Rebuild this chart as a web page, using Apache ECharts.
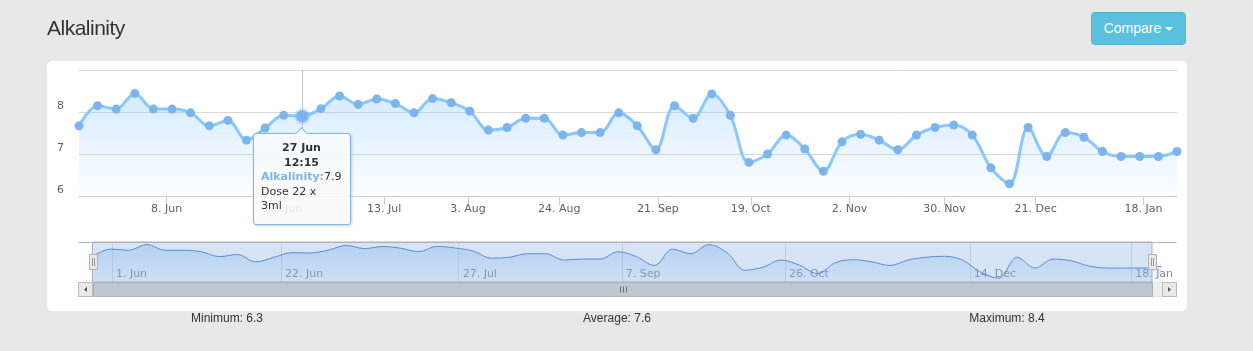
<!DOCTYPE html>
<html>
<head>
<meta charset="utf-8">
<title>Alkalinity</title>
<script src="https://cdn.jsdelivr.net/npm/echarts@6.0.0/dist/echarts.min.js"></script>
<style>
  html, body { margin: 0; padding: 0; background: #e8e8e8; }
  body { width: 1253px; height: 351px; position: relative; overflow: hidden; font-family: "Liberation Sans", Arial, sans-serif; }
  #title { position: absolute; left: 47px; top: 17px; font-size: 21px; line-height: 21px; letter-spacing: -0.5px; color: #333; }
  #compare { position: absolute; left: 1091px; top: 12px; width: 95px; height: 33px; box-sizing: border-box;
             background: #5bc0de; border: 1px solid #46b8da; border-radius: 4px; color: #fff;
             font-size: 14px; line-height: 31px; text-align: center; }
  .caret { display: inline-block; width: 0; height: 0; margin-left: 4px; vertical-align: middle;
           border-top: 4px solid #fff; border-left: 4px solid transparent; border-right: 4px solid transparent; }
  #panel { position: absolute; left: 47px; top: 61px; width: 1140px; height: 250px; background: #fff; border-radius: 5px; }
  #chart { position: absolute; left: 0; top: 0; width: 1253px; height: 351px; }
  .stat { position: absolute; top: 310px; width: 200px; margin-left: -100px; text-align: center;
          font-size: 12px; line-height: 16px; color: #333; }
</style>
</head>
<body>
<div id="panel"></div>
<div id="chart"></div>
<div id="title">Alkalinity</div>
<div id="compare">Compare<span class="caret"></span></div>
<div class="stat" id="stat-min" style="left:227px"></div>
<div class="stat" id="stat-avg" style="left:617px"></div>
<div class="stat" id="stat-max" style="left:1007px"></div>
<script>
// readings, equally spaced (ordinal axis)
var values = [
    7.67, 8.15, 8.07, 8.44, 8.07, 8.07, 7.98, 7.67, 7.80, 7.33,
    7.62, 7.92, 7.90, 8.08, 8.38, 8.18, 8.31, 8.20, 7.98, 8.32,
    8.22, 8.02, 7.57, 7.63, 7.85, 7.85, 7.45, 7.51, 7.51, 7.98,
    7.67, 7.10, 8.15, 7.85, 8.43, 7.92, 6.80, 7.00, 7.45, 7.12,
    6.59, 7.29, 7.47, 7.33, 7.10, 7.45, 7.63, 7.69, 7.45, 6.67,
    6.29, 7.63, 6.94, 7.51, 7.40, 7.06, 6.94, 6.94, 6.94, 7.06
];

// date ticks, in point-index units
var tickPos = [4.71, 10.97, 16.4, 20.9, 25.8, 31.1, 36.1, 41.4, 46.5, 51.4, 57.2];
var tickLabels = ['8. Jun', '22. Jun', '13. Jul', '3. Aug', '24. Aug', '21. Sep', '19. Oct', '2. Nov', '30. Nov', '21. Dec', '18. Jan'];

var navTickPos = [1.07, 10.4, 20.2, 29.2, 38.2, 48.4, 57.3];
var navTickLabels = ['1. Jun', '22. Jun', '27. Jul', '7. Sep', '26. Oct', '14. Dec', '18. Jan'];

// navigator selection
var navFrom = 0, navTo = 58.45;

// hovered point
var hoverIndex = 12;
var hoverDate = '27 Jun';
var hoverTime = '12:15';
var hoverDose = ['Dose 22 x', '3ml'];

var FONT = 'DejaVu Sans';
var BLUE = '#7cb5ec';

var sum = 0;
values.forEach(function (v) { sum += v; });
document.getElementById('stat-min').textContent = 'Minimum: ' + Math.min.apply(null, values).toFixed(1);
document.getElementById('stat-avg').textContent = 'Average: ' + (sum / values.length).toFixed(1);
document.getElementById('stat-max').textContent = 'Maximum: ' + Math.max.apply(null, values).toFixed(1);

var points = values.map(function (v, i) { return [i, v]; });

var labelFor = function (pos, labels) {
    return function (val) {
        for (var i = 0; i < pos.length; i++) {
            if (Math.abs(pos[i] - val) < 1e-6) return labels[i];
        }
        return '';
    };
};

var chart = echarts.init(document.getElementById('chart'), null, {renderer: 'canvas'});

var option = {
    animation: false,
    backgroundColor: 'transparent',
    grid: [
        {left: 79, right: 76, top: 70, bottom: 155, outerBoundsMode: 'none'},
        {left: 78, right: 76, top: 242, height: 40, outerBoundsMode: 'none'}
    ],
    xAxis: [
        {
            type: 'value', gridIndex: 0, min: 0, max: values.length - 1,
            axisLine: {show: true, onZero: false, lineStyle: {color: '#c0d0e0'}},
            axisTick: {show: true, length: 9, customValues: tickPos, lineStyle: {color: '#c0d0e0'}},
            axisLabel: {
                customValues: tickPos, formatter: labelFor(tickPos, tickLabels), margin: 8,
                hideOverlap: false, fontFamily: FONT, fontSize: 11, color: '#606060'
            },
            splitLine: {show: false}
        },
        {
            type: 'value', gridIndex: 1, min: -0.8, max: 59.83,
            axisLine: {show: false, onZero: false},
            axisTick: {show: false, customValues: navTickPos},
            axisLabel: {
                customValues: navTickPos, formatter: labelFor(navTickPos, navTickLabels),
                inside: true, margin: 2, align: 'left', padding: [0, 0, 0, 4],
                hideOverlap: false, fontFamily: FONT, fontSize: 11, color: '#8a8a8a'
            },
            splitLine: {show: true, lineStyle: {color: '#e0e0e0'}}
        }
    ],
    yAxis: [
        {
            type: 'value', gridIndex: 0, min: 6, max: 9, interval: 1,
            axisLine: {show: false}, axisTick: {show: false},
            axisLabel: {
                showMaxLabel: false, verticalAlign: 'bottom', margin: 15,
                fontFamily: FONT, fontSize: 11, color: '#606060'
            },
            splitLine: {lineStyle: {color: '#d8d8d8'}}
        },
        {
            type: 'value', gridIndex: 1, min: 6.05, max: 8.6, show: false
        }
    ],
    tooltip: {
        trigger: 'axis',
        triggerOn: 'none',
        alwaysShowContent: true,
        transitionDuration: 0,
        backgroundColor: 'rgba(249,249,249,0.88)',
        borderColor: BLUE,
        borderWidth: 1,
        padding: [7, 8, 10, 7],
        textStyle: {fontFamily: FONT, fontSize: 11, color: '#333', lineHeight: 14.5},
        extraCssText: 'border-radius:3px;box-shadow:1px 1px 3px rgba(0,0,0,0.18);width:98px;box-sizing:border-box;line-height:14.5px;',
        position: function () { return [253, 133]; },
        axisPointer: {type: 'line', z: 1, lineStyle: {color: '#c0c0c0', width: 1, type: 'solid'}},
        formatter: function (params) {
            var p = params[0];
            var arrow = '<div style="position:absolute;left:43px;top:-5px;width:8px;height:8px;' +
                'background:rgb(249,249,249);border-left:1px solid ' + BLUE + ';border-top:1px solid ' + BLUE + ';' +
                'transform:rotate(45deg);"></div>';
            return arrow +
                '<div style="text-align:center;font-weight:bold;">' + hoverDate + '<br>' + hoverTime + '</div>' +
                '<span style="color:' + BLUE + ';font-weight:bold;">' + p.seriesName + ':</span>' + p.value[1] +
                '<br>' + hoverDose.join('<br>');
        }
    },
    series: [
        {
            name: 'Alkalinity',
            type: 'line',
            xAxisIndex: 0, yAxisIndex: 0,
            data: points,
            smooth: 0.35,
            symbol: 'circle',
            symbolSize: 9,
            clip: false,
            z: 3,
            lineStyle: {color: BLUE, width: 3},
            itemStyle: {color: BLUE, borderWidth: 0},
            areaStyle: {
                origin: 'start',
                color: new echarts.graphic.LinearGradient(0, 0, 0, 1, [
                    {offset: 0, color: 'rgba(124,181,236,0.5)'},
                    {offset: 1, color: 'rgba(124,181,236,0.03)'}
                ])
            },
            emphasis: {
                scale: 1.35,
                lineStyle: {width: 3},
                itemStyle: {color: BLUE, borderColor: 'rgba(124,181,236,0.35)', borderWidth: 4}
            }
        },
        {
            name: 'Navigator',
            type: 'line',
            xAxisIndex: 1, yAxisIndex: 1,
            data: points,
            smooth: 0.35,
            symbol: 'none',
            silent: true,
            tooltip: {show: false},
            lineStyle: {color: '#5d8bd0', width: 1},
            areaStyle: {
                origin: 'start',
                color: new echarts.graphic.LinearGradient(0, 0, 0, 1, [
                    {offset: 0, color: 'rgba(124,181,236,0.55)'},
                    {offset: 1, color: 'rgba(124,181,236,0.12)'}
                ])
            },
            markArea: {
                silent: true,
                itemStyle: {color: 'rgba(120,165,225,0.3)', borderColor: '#b2b1b6', borderWidth: 1},
                data: [[{xAxis: navFrom}, {xAxis: navTo}]]
            }
        }
    ]
};

chart.setOption(option);

// navigator chrome: outline, handles, scrollbar
var x0 = Math.round(chart.convertToPixel({xAxisIndex: 1}, navFrom)) + 0.5;
var x1 = Math.round(chart.convertToPixel({xAxisIndex: 1}, navTo)) + 0.5;
var navL = 78.5, navR = 1176.5, navTop = 242.5, sbTop = 282.5, sbH = 14;

var vline = function (x, y1, y2, color, z) {
    return {type: 'line', z: z, shape: {x1: x, y1: y1, x2: x, y2: y2}, style: {stroke: color, lineWidth: 1}};
};
var rect = function (x, y, w, h, fill, stroke, z) {
    return {type: 'rect', z: z, shape: {x: x, y: y, width: w, height: h}, style: {fill: fill, stroke: stroke, lineWidth: 1}};
};
var handle = function (x) {
    return [
        rect(x - 4, 254.5, 8, 15, '#ebe7e8', '#b2b1b6', 30),
        vline(x - 1, 258, 266, '#999', 31),
        vline(x + 1, 258, 266, '#999', 31)
    ];
};
var button = function (x, dir) {
    var cx = x + 7, cy = sbTop + 7;
    var tri = dir < 0
        ? [[cx + 1.5, cy - 2.5], [cx + 1.5, cy + 2.5], [cx - 1.5, cy]]
        : [[cx - 1.5, cy - 2.5], [cx - 1.5, cy + 2.5], [cx + 1.5, cy]];
    return [
        rect(x, sbTop, 14, sbH, '#ebe7e8', '#bbbbbb', 30),
        {type: 'polygon', z: 31, shape: {points: tri}, style: {fill: '#555'}}
    ];
};
var cx = Math.round((x0 + x1) / 2) + 0.5;

var chrome = [
    {type: 'line', z: 20, shape: {x1: navL, y1: navTop, x2: navR, y2: navTop}, style: {stroke: '#b2b1b6', lineWidth: 1}},
    rect(navL, sbTop, navR - navL, sbH, '#eeeeee', '#e2e2e2', 20),
    rect(x0, sbTop, x1 - x0, sbH, '#bfc8d1', '#aab1b9', 21),
    vline(cx - 3, sbTop + 4, sbTop + 10, '#6f6f6f', 22),
    vline(cx, sbTop + 4, sbTop + 10, '#6f6f6f', 22),
    vline(cx + 3, sbTop + 4, sbTop + 10, '#6f6f6f', 22)
].concat(button(navL, -1), button(navR - 14, 1), handle(x0), handle(x1));

chart.setOption({graphic: chrome});

chart.dispatchAction({type: 'highlight', seriesIndex: 0, dataIndex: hoverIndex});
chart.dispatchAction({type: 'showTip', seriesIndex: 0, dataIndex: hoverIndex});
</script>
</body>
</html>
